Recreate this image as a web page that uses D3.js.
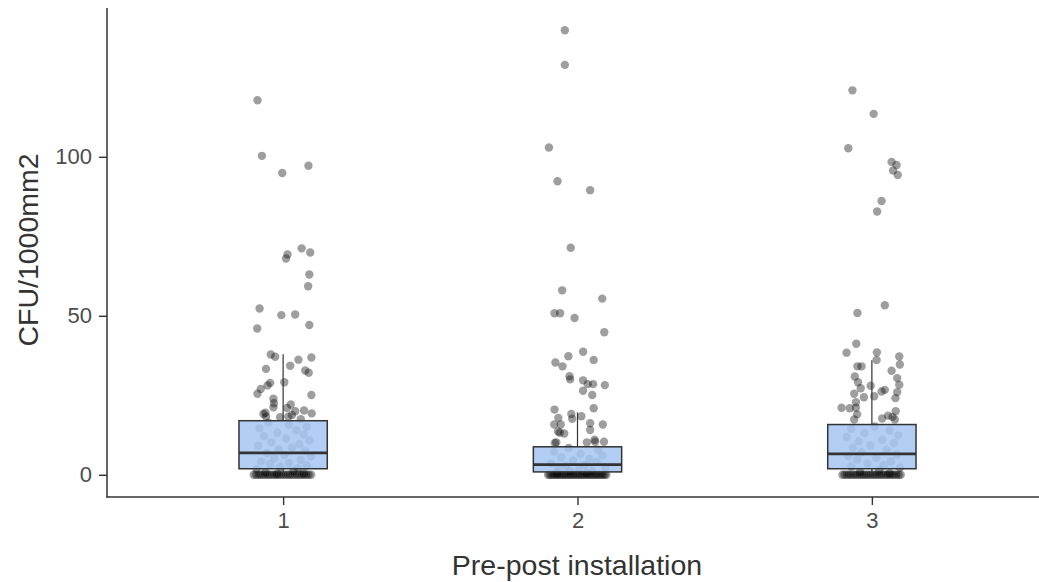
<!DOCTYPE html>
<html>
<head>
<meta charset="utf-8">
<script src="https://cdn.jsdelivr.net/npm/d3@7"></script>
<style>
  body { margin: 0; background: #fff; }
  svg { display: block; font-family: "Liberation Sans", Arial, sans-serif; }
</style>
</head>
<body>
<div id="chart"></div>
<script>
const categories = ["1", "2", "3"];
const yTicks = [0, 50, 100];

// box statistics
const q1 = [1.9, 0.9, 1.9];
const median = [6.9, 3.2, 6.6];
const q3 = [17.0, 8.8, 15.8];
const whiskerLow = [0, 0, 0];
const whiskerHigh = [37.9, 19.6, 36.0];

// jittered observations: values and horizontal jitter (category units)
const values1 = [117.8, 100.3, 97.2, 94.9, 71.2, 69.9, 69.3, 68.0, 63.0, 59.3, 52.3, 50.4, 50.2, 47.1, 46.0,
  37.8, 37.1, 36.9, 36.2, 34.3, 33.3, 32.8, 32.1, 29.1, 28.9, 28.1, 27.0, 25.5, 25.1, 23.9, 22.5, 22.1,
  21.2, 21.0, 20.2, 20.0, 19.5, 19.3, 19.1, 18.8, 18.3, 18.3, 18.1, 17.5,
  16.4, 15.7, 15.1, 14.6, 14.0, 13.2, 12.7, 12.1, 11.4, 10.8, 10.2, 9.7, 9.1, 8.6, 8.0, 7.5, 6.8, 6.3,
  5.8, 5.2, 4.7, 4.2, 3.7, 3.3, 2.9, 2.5, 2.1, 1.8,
  1.2, 0.8, 0.5, 0.3,
  0, 0, 0, 0, 0, 0, 0, 0, 0, 0,
  0, 0, 0, 0, 0, 0, 0, 0, 0, 0,
  0, 0, 0, 0, 0, 0];
const jitter1 = [-0.087, -0.072, 0.086, -0.003, 0.063, 0.092, 0.015, 0.010, 0.089, 0.085, -0.080, 0.041, -0.006, 0.089, -0.088,
  -0.042, -0.027, 0.096, 0.052, 0.024, -0.058, 0.075, 0.087, 0.004, -0.044, -0.053, -0.076, -0.087, 0.096, -0.033, -0.031, 0.026,
  -0.033, 0.013, 0.071, 0.041, -0.060, 0.097, -0.067, 0.030, -0.058, 0.018, -0.010, 0.060,
  -0.05, 0.02, 0.08, -0.08, 0.045, -0.02, 0.07, -0.065, 0.01, 0.09, -0.04, 0.055, -0.085, 0.03, -0.015, 0.075, -0.055, 0.005,
  0.095, -0.03, 0.06, -0.075, 0.02, -0.045, 0.08, -0.01, 0.05, -0.09,
  0.035, -0.06, 0.07, -0.02,
  -0.1, -0.092, -0.084, -0.077, -0.069, -0.061, -0.053, -0.046, -0.038, -0.03,
  -0.023, -0.015, -0.007, 0.001, 0.009, 0.017, 0.024, 0.032, 0.04, 0.048,
  0.056, 0.063, 0.071, 0.079, 0.087, 0.095];

const values2 = [139.8, 128.9, 102.9, 92.3, 89.5, 71.4, 58.0, 55.4, 50.8, 50.8, 49.3, 44.8, 38.7, 37.3, 36.1, 35.3,
  34.1, 31.0, 30.0, 29.7, 28.5, 28.5, 28.2, 26.4, 25.1, 20.9, 20.5, 19.1, 18.4, 17.9, 17.6, 16.2, 15.8, 15.8,
  15.8, 14.1, 13.6, 13.0, 13.2, 11.0, 10.4, 10.2, 10.0, 10.2, 10.4,
  8.4, 7.9, 7.2, 6.6, 6.1, 5.5, 5.0, 4.5, 4.0, 3.6, 3.1, 2.7, 2.3, 1.9, 1.6, 1.3, 1.1,
  0.6, 0.4,
  0, 0, 0, 0, 0, 0, 0, 0, 0, 0,
  0, 0, 0, 0, 0, 0, 0, 0, 0, 0,
  0, 0, 0, 0, 0, 0, 0, 0, 0, 0,
  0, 0, 0, 0];
const jitter2 = [-0.043, -0.043, -0.097, -0.068, 0.043, -0.023, -0.052, 0.084, -0.078, -0.059, -0.010, 0.091, 0.019, -0.031, 0.055, -0.075,
  -0.051, -0.027, -0.025, 0.019, 0.035, 0.053, 0.093, 0.019, 0.050, 0.055, -0.078, -0.021, 0.013, -0.065, -0.018, 0.043, -0.079, -0.057,
  0.086, 0.043, -0.066, -0.045, -0.06, 0.058, 0.060, 0.032, -0.077, -0.072, 0.09,
  -0.03, 0.07, -0.08, 0.01, 0.085, -0.055, 0.04, -0.015, 0.065, -0.09, 0.025, -0.04, 0.095, -0.065, 0.005, 0.05, -0.025,
  0.03, -0.07,
  -0.1, -0.094, -0.088, -0.082, -0.076, -0.07, -0.064, -0.058, -0.052, -0.046,
  -0.04, -0.034, -0.028, -0.022, -0.016, -0.01, -0.004, 0.002, 0.008, 0.014,
  0.02, 0.026, 0.032, 0.038, 0.044, 0.05, 0.056, 0.062, 0.068, 0.074,
  0.08, 0.086, 0.092, 0.098];

const values3 = [120.9, 113.5, 102.7, 98.4, 97.4, 95.7, 94.3, 86.1, 82.8, 53.3, 50.9, 41.2, 38.5, 38.4, 37.2, 36.1,
  34.7, 34.1, 34.1, 32.7, 30.9, 30.4, 29.1, 28.3, 28.0, 27.2, 26.7, 26.2, 26.0, 25.5, 24.7, 24.4, 24.1, 22.8,
  21.1, 21.1, 20.9, 20.0, 19.0, 18.6, 18.2, 17.7, 17.4, 17.4,
  15.2, 14.5, 13.9, 13.1, 12.4, 11.8, 11.0, 10.5, 9.9, 9.2, 8.5, 7.9, 7.1, 6.4, 5.9, 5.3, 4.8, 4.2, 3.6, 3.0, 2.6, 2.2,
  1.4, 0.9, 0.5,
  0, 0, 0, 0, 0, 0, 0, 0, 0, 0,
  0, 0, 0, 0, 0, 0, 0, 0, 0, 0,
  0, 0, 0, 0, 0, 0, 0, 0];
const jitter3 = [-0.066, 0.006, -0.080, 0.067, 0.084, 0.072, 0.088, 0.033, 0.018, 0.044, -0.049, -0.053, 0.017, -0.086, 0.093, 0.016,
  0.095, -0.049, -0.035, 0.067, -0.058, 0.086, -0.047, 0.093, -0.004, -0.038, 0.044, 0.033, 0.086, -0.060, 0.008, -0.027, 0.080, -0.054,
  -0.103, -0.054, -0.075, 0.081, -0.05, 0.055, 0.07, 0.035, -0.060, 0.078,
  0.01, -0.07, 0.06, -0.025, 0.09, -0.085, 0.035, -0.045, 0.075, -0.005, -0.065, 0.05, -0.035, 0.085, -0.08, 0.015, -0.05, 0.065, -0.015, 0.04, -0.07, 0.095,
  0.025, -0.04, 0.06,
  -0.1, -0.093, -0.085, -0.078, -0.071, -0.063, -0.056, -0.049, -0.041, -0.034,
  -0.027, -0.019, -0.012, -0.005, 0.003, 0.01, 0.017, 0.025, 0.032, 0.039,
  0.047, 0.054, 0.061, 0.069, 0.076, 0.083, 0.091, 0.098];

const groupValues = [values1, values2, values3];
const groupJitter = [jitter1, jitter2, jitter3];

const width = 1039, height = 582;
const svg = d3.select("#chart").append("svg")
  .attr("width", width)
  .attr("height", height);

svg.append("rect").attr("width", width).attr("height", height).attr("fill", "#fff");

const maxVal = d3.max(groupValues.flat());
const pad = maxVal * 0.05;
const y = d3.scaleLinear().domain([0 - pad, maxVal + pad]).range([497, 8]);
const x = d3.scaleLinear().domain([0.4, 3.6]).range([106.5, 1048.5]);
const boxWidth = 0.3;

// points
const points = [];
groupValues.forEach((vals, g) => {
  vals.forEach((v, i) => {
    const j = groupJitter[g][i];
    if (j !== undefined) points.push({ g: g + 1, v: v, j: j });
  });
});

svg.append("g").selectAll("circle")
  .data(points)
  .join("circle")
  .attr("cx", d => x(d.g + d.j))
  .attr("cy", d => y(d.v))
  .attr("r", 4.2)
  .attr("fill", "#000")
  .attr("fill-opacity", 0.38);

// boxes
const boxes = svg.append("g").selectAll("g")
  .data(categories.map((c, i) => ({
    i: i + 1, q1: q1[i], med: median[i], q3: q3[i], lo: whiskerLow[i], hi: whiskerHigh[i]
  })))
  .join("g");

boxes.append("line")
  .attr("x1", d => x(d.i)).attr("x2", d => x(d.i))
  .attr("y1", d => y(d.q3)).attr("y2", d => y(d.hi))
  .attr("stroke", "#333").attr("stroke-width", 1.2);

boxes.append("line")
  .attr("x1", d => x(d.i)).attr("x2", d => x(d.i))
  .attr("y1", d => y(d.q1)).attr("y2", d => y(d.lo))
  .attr("stroke", "#333").attr("stroke-width", 1.2);

boxes.append("rect")
  .attr("x", d => x(d.i - boxWidth / 2))
  .attr("width", d => x(d.i + boxWidth / 2) - x(d.i - boxWidth / 2))
  .attr("y", d => y(d.q3))
  .attr("height", d => y(d.q1) - y(d.q3))
  .attr("fill", "#a4c5f2")
  .attr("fill-opacity", 0.85)
  .attr("stroke", "#333")
  .attr("stroke-width", 1.5);

boxes.append("line")
  .attr("x1", d => x(d.i - boxWidth / 2)).attr("x2", d => x(d.i + boxWidth / 2))
  .attr("y1", d => y(d.med)).attr("y2", d => y(d.med))
  .attr("stroke", "#333").attr("stroke-width", 2.8);

// axes
const yAxis = svg.append("g")
  .attr("transform", "translate(107,0)")
  .call(d3.axisLeft(y).tickValues(yTicks).tickSize(8).tickPadding(7));
yAxis.select(".domain").remove();
yAxis.selectAll(".tick line").attr("stroke", "#333").attr("stroke-width", 1.4);
yAxis.selectAll(".tick text").attr("fill", "#4d4d4d").style("font-size", "22px");

const xAxis = svg.append("g")
  .attr("transform", "translate(0,497)")
  .call(d3.axisBottom(x).tickValues([1, 2, 3]).tickFormat((d, i) => categories[i]).tickSize(8).tickPadding(7));
xAxis.select(".domain").remove();
xAxis.selectAll(".tick line").attr("stroke", "#333").attr("stroke-width", 1.4);
xAxis.selectAll(".tick text").attr("fill", "#4d4d4d").style("font-size", "22px");

svg.append("line")
  .attr("x1", 107).attr("x2", 107).attr("y1", 8).attr("y2", 497.5)
  .attr("stroke", "#333").attr("stroke-width", 1.5);
svg.append("line")
  .attr("x1", 106.3).attr("x2", width).attr("y1", 497).attr("y2", 497)
  .attr("stroke", "#333").attr("stroke-width", 1.5);

svg.append("text")
  .attr("x", 577).attr("y", 575)
  .attr("text-anchor", "middle")
  .attr("fill", "#333")
  .style("font-size", "28.5px")
  .text("Pre-post installation");

svg.append("text")
  .attr("transform", "translate(38,250) rotate(-90)")
  .attr("text-anchor", "middle")
  .attr("fill", "#333")
  .style("font-size", "28.5px")
  .text("CFU/1000mm2");
</script>
</body>
</html>
